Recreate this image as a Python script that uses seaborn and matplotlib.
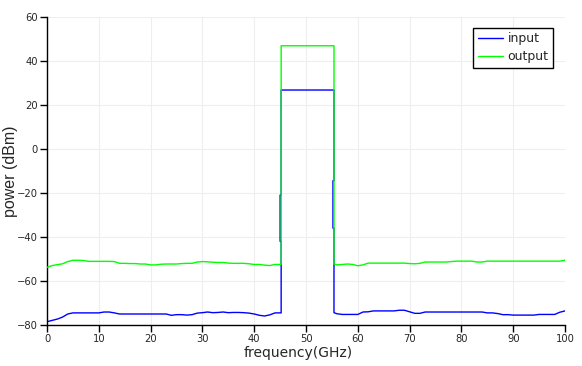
import numpy as np
import pandas as pd
import matplotlib
matplotlib.use("Agg")
import matplotlib.pyplot as plt
import seaborn as sns

# ---- data ----
freq_left = [0, 1, 2, 3, 4, 5, 6, 7, 8, 9, 10, 11, 12, 13, 14, 15, 16, 17, 18, 19, 20,
             21, 22, 23, 24, 25, 26, 27, 28, 29, 30, 31, 32, 33, 34, 35, 36, 37, 38, 39,
             40, 41, 42, 43, 44, 45]
input_left = [-78.5, -77.9, -77.3, -76.4, -75.0, -74.5, -74.5, -74.5, -74.5, -74.5, -74.5,
              -74.1, -74.1, -74.5, -75.0, -75.0, -75.0, -75.0, -75.0, -75.0, -75.0, -75.0,
              -75.0, -75.0, -75.6, -75.3, -75.3, -75.5, -75.3, -74.6, -74.4, -74.1, -74.4,
              -74.3, -74.1, -74.4, -74.3, -74.3, -74.4, -74.6, -75.0, -75.6, -75.9, -75.4,
              -74.5, -74.5]
output_left = [-53.8, -53.0, -52.6, -52.2, -51.2, -50.6, -50.6, -50.7, -51.1, -51.1, -51.1,
               -51.1, -51.1, -51.2, -52.0, -52.0, -52.1, -52.1, -52.3, -52.3, -52.7, -52.7,
               -52.4, -52.3, -52.3, -52.3, -52.1, -52.0, -52.0, -51.4, -51.2, -51.3, -51.5,
               -51.6, -51.6, -51.9, -52.0, -52.0, -52.0, -52.2, -52.5, -52.5, -52.8, -53.0,
               -52.5, -52.5]

freq_right = [55.4, 56, 57, 58, 59, 60, 61, 62, 63, 64, 65, 66, 67, 68, 69, 70, 71, 72, 73,
              74, 75, 76, 77, 78, 79, 80, 81, 82, 83, 84, 85, 86, 87, 88, 89, 90, 91, 92, 93,
              94, 95, 96, 97, 98, 99, 100]
input_right = [-74.4, -74.9, -75.2, -75.2, -75.2, -75.2, -74.1, -74.0, -73.6, -73.6, -73.6,
               -73.6, -73.6, -73.3, -73.3, -74.0, -74.7, -74.7, -74.1, -74.1, -74.1, -74.1,
               -74.1, -74.1, -74.1, -74.1, -74.1, -74.1, -74.1, -74.1, -74.5, -74.5, -74.8,
               -75.3, -75.3, -75.5, -75.5, -75.5, -75.5, -75.5, -75.2, -75.2, -75.2, -75.2,
               -74.2, -73.6]
output_right = [-52.3, -52.7, -52.5, -52.3, -52.5, -53.1, -52.7, -51.9, -51.9, -51.9, -51.9,
                -51.9, -51.9, -51.9, -51.9, -52.1, -52.2, -52.0, -51.4, -51.4, -51.4, -51.4,
                -51.4, -51.2, -51.0, -51.0, -51.0, -51.0, -51.4, -51.4, -51.0, -51.0, -51.0,
                -51.0, -51.0, -51.0, -51.0, -51.0, -51.0, -51.0, -51.0, -51.0, -51.0, -51.0,
                -51.0, -50.6]

# band-edge transitions (pulse region 45-55 GHz)
input_edge_left_f = [45.2, 45.2, 45.0, 45.0, 45.2, 45.2]
input_edge_left_p = [-74.5, -42.0, -42.0, -21.0, -21.0, 26.7]
input_edge_right_f = [55.4, 55.4, 55.2, 55.2, 55.4, 55.4]
input_edge_right_p = [26.7, -14.5, -14.5, -36.0, -36.0, -74.4]
output_edge_left_f = [45.2, 45.2]
output_edge_left_p = [-52.5, 46.8]
output_edge_right_f = [55.4, 55.4]
output_edge_right_p = [46.8, -52.3]

in_f = freq_left + input_edge_left_f + input_edge_right_f + freq_right
in_p = input_left + input_edge_left_p + input_edge_right_p + input_right
out_f = freq_left + output_edge_left_f + output_edge_right_f + freq_right
out_p = output_left + output_edge_left_p + output_edge_right_p + output_right

df = pd.concat([
    pd.DataFrame({"frequency": in_f, "power": in_p, "signal": "input"}),
    pd.DataFrame({"frequency": out_f, "power": out_p, "signal": "output"}),
], ignore_index=True)

x_ticks = [0, 10, 20, 30, 40, 50, 60, 70, 80, 90, 100]
y_ticks = [-80, -60, -40, -20, 0, 20, 40, 60]

sns.set_style("white")
plt.rcParams["font.family"] = ["DejaVu Sans"]

fig = plt.figure(figsize=(5.82, 3.66), dpi=100)
ax = fig.add_axes([0.0808, 0.112, 0.89, 0.8424])

sns.lineplot(data=df, x="frequency", y="power", hue="signal",
             estimator=None, sort=False, palette={"input": "#0000ff", "output": "#00ff00"},
             linewidth=1.0, ax=ax)
# output drawn on top of input
for ln in ax.lines:
    if tuple(np.round(matplotlib.colors.to_rgb(ln.get_color()), 2)) == (0.0, 1.0, 0.0):
        ln.set_zorder(3)

ax.set_xlim(0, 100)
ax.set_ylim(-80, 60)
ax.set_xticks(x_ticks)
ax.set_yticks(y_ticks)
ax.grid(True, color="#eeeeee", linewidth=0.8)
ax.set_axisbelow(True)
for s in ["top", "right"]:
    ax.spines[s].set_visible(False)
for s in ["left", "bottom"]:
    ax.spines[s].set_color("black")
    ax.spines[s].set_linewidth(1.0)
ax.tick_params(axis="both", direction="out", length=5, width=1, color="black",
               labelsize=7.2, pad=1.5, left=True, bottom=True)
ax.set_xlabel("frequency(GHz)", fontsize=10, va="top")
ax.xaxis.set_label_coords(0.485, -0.068)
ax.set_ylabel("power (dBm)", fontsize=11.5, family=["Liberation Sans", "DejaVu Sans"])
ax.yaxis.set_label_coords(-0.057, 0.5)

leg = ax.legend(loc="upper right", bbox_to_anchor=(0.977, 0.964), borderaxespad=0,
                fontsize=9, frameon=True, fancybox=False, framealpha=1, edgecolor="black",
                handlelength=2.0, handletextpad=0.4, borderpad=0.35, labelspacing=0.4)
leg.get_frame().set_linewidth(1.0)

fig.savefig("out.png", dpi=100)
